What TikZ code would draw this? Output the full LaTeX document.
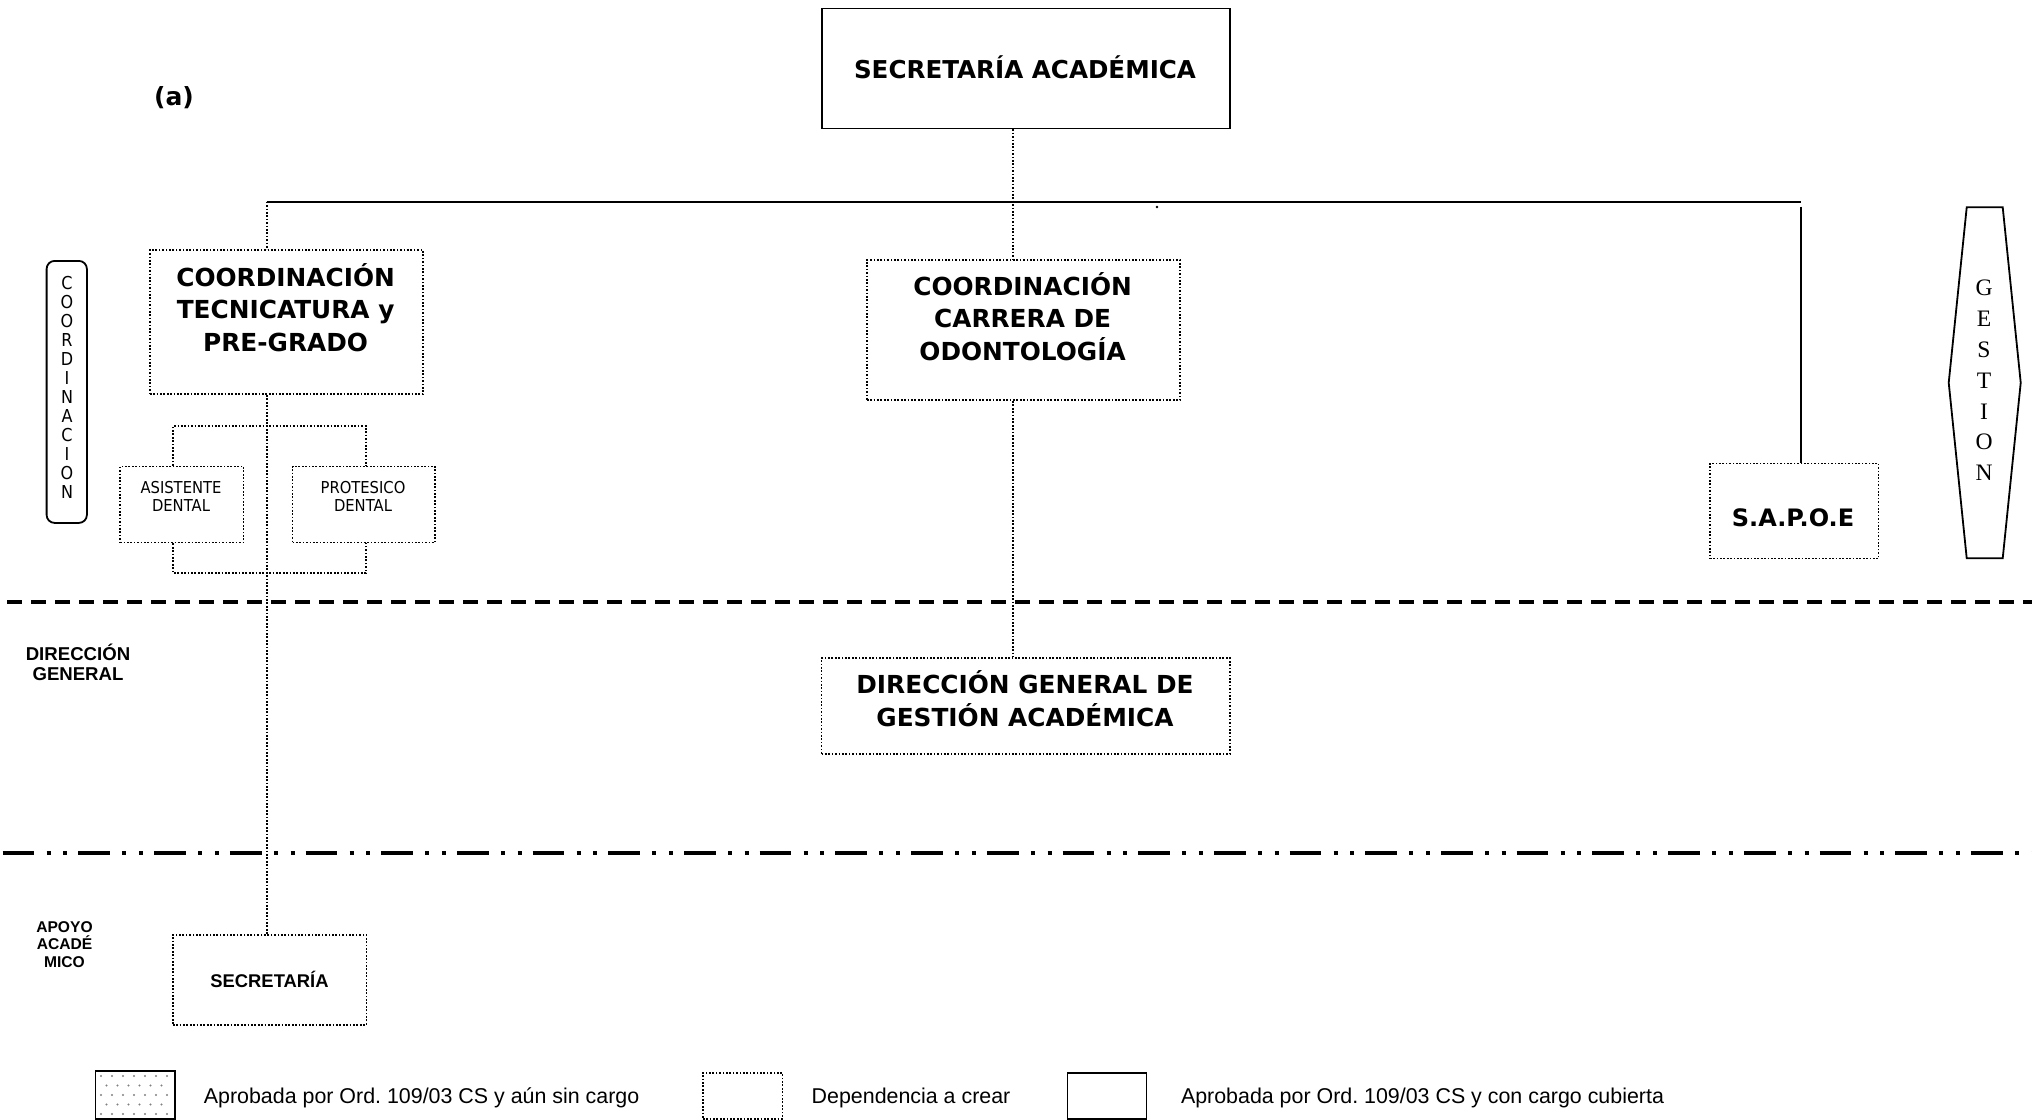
\documentclass[tikz,border=0pt]{standalone}
\usepackage{fontspec}
\setmainfont{DejaVu Sans}
\newfontfamily\dvs{DejaVu Sans}
\newfontfamily\dvc{DejaVu Sans}[FakeStretch=0.9]
\newfontfamily\lsans{Liberation Sans}
\newfontfamily\lserif{Liberation Serif}
\usetikzlibrary{calc}
\frenchspacing
\begin{document}
\begin{tikzpicture}[x=0.5pt,y=-0.5pt,
  solidbox/.style={draw, line width=0.9pt, inner sep=0pt, anchor=north west},
  dotbox/.style={draw, line width=0.85pt, dash pattern=on 0.85pt off 0.85pt, inner sep=0pt, anchor=north west},
  dotline/.style={line width=0.85pt, dash pattern=on 0.85pt off 0.85pt},
  solidline/.style={line width=0.9pt},
  bigtext/.style={font=\dvs\bfseries\fontsize{12.4pt}{16.25pt}\selectfont, align=center, inner sep=0pt, anchor=base},
  smalltext/.style={font=\dvc\fontsize{8.2pt}{9.2pt}\selectfont, align=center, inner sep=0pt, anchor=base},
  sidetext/.style={font=\lsans\bfseries, align=center, inner sep=0pt, anchor=base},
  legtext/.style={font=\lsans\fontsize{10.7pt}{12pt}\selectfont, inner sep=0pt, anchor=base west}
]
\useasboundingbox[fill=white] (0,0) rectangle (2032,1119);

% title marker
\node[font=\dvs\bfseries\fontsize{12.5pt}{14pt}\selectfont, inner sep=0pt, anchor=base] (lbl) at (174,105.5) {(a)};

% boxes (multi-line text nodes are anchored at the baseline of their last line)
\node[solidbox, minimum width=204pt, minimum height=60pt] (SA) at (821,7.5) {};
\node[bigtext, font=\dvs\bfseries\fontsize{12.3pt}{15pt}\selectfont] (SAt) at (1025,78) {SECRETARÍA ACADÉMICA};

\node[draw, line width=0.9pt, rounded corners=4pt, inner sep=0pt, anchor=north west, minimum width=20.15pt, minimum height=131pt] (CR) at (45.7,260) {};
\node[font=\dvc\fontsize{8.9pt}{9.5pt}\selectfont, align=center, inner sep=0pt] (CRt) at (67,387.4) {C\\O\\O\\R\\D\\I\\N\\A\\C\\I\\O\\N};

\node[dotbox, minimum width=136.65pt, minimum height=72pt] (CT) at (149,249.3) {};
\node[bigtext] (CTt) at (285.6,351) {COORDINACIÓN\\TECNICATURA y\\PRE-GRADO};

\node[dotbox, minimum width=156.65pt, minimum height=70pt] (CCO) at (866,259.3) {};
\node[bigtext] (CCOt) at (1022.6,360) {COORDINACIÓN\\CARRERA DE\\ODONTOLOGÍA};

\node[dotbox, minimum width=61.7pt, minimum height=38pt] (AD) at (119.3,465.7) {};
\node[smalltext] (ADt) at (181,511.7) {ASISTENTE\\DENTAL};

\node[dotbox, minimum width=71.3pt, minimum height=38pt] (PD) at (291.7,465.7) {};
\node[smalltext] (PDt) at (363,511.7) {PROTESICO\\DENTAL};

\node[dotbox, minimum width=84.35pt, minimum height=47.5pt] (SAP) at (1709,462.7) {};
\node[bigtext, font=\dvs\bfseries\fontsize{12pt}{14pt}\selectfont] (SAPt) at (1793,526) {S.A.P.O.E};

% GESTION hexagon
\coordinate (g1) at (1966.7,207.3);
\coordinate (g2) at (2002.7,207.3);
\coordinate (g3) at (2020.7,382.7);
\coordinate (g4) at (2002.7,558.3);
\coordinate (g5) at (1966.7,558.3);
\coordinate (g6) at (1948.7,382.7);
\draw[line width=0.9pt] (g1) -- (g2) -- (g3) -- (g4) -- (g5) -- (g6) -- cycle;
\node[font=\lserif\fontsize{11.8pt}{15.4pt}\selectfont, align=center, inner sep=0pt] (GEt) at (1984,380.5) {G\\E\\S\\T\\I\\O\\N};

\node[dotbox, minimum width=204.15pt, minimum height=48pt] (DG) at (820.7,657.3) {};
\node[bigtext, font=\dvs\bfseries\fontsize{12.4pt}{16.5pt}\selectfont] (DGt) at (1025,726) {DIRECCIÓN GENERAL DE\\GESTIÓN ACADÉMICA};

\node[dotbox, minimum width=96.75pt, minimum height=45pt] (SEC) at (172,934) {};
\node[sidetext, font=\lsans\bfseries\fontsize{9.2pt}{11pt}\selectfont] (SECt) at (269.5,987.5) {SECRETARÍA};

% side labels
\node[sidetext, font=\lsans\bfseries\fontsize{9.3pt}{10.35pt}\selectfont] (DIRl) at (78,680.7) {DIRECCIÓN\\GENERAL};
\node[sidetext, font=\lsans\bfseries\fontsize{7.8pt}{8.75pt}\selectfont] (APl) at (64.5,967) {APOYO\\ACADÉ\\MICO};

% level separators
\draw[line width=2pt, dash pattern=on 7.5pt off 4.5pt] (7,602) -- (2032,602);
\draw[line width=2pt, dash pattern=on 15.85pt off 6.15pt on 2pt off 6.35pt on 2pt off 5.5pt] (2.7,853.3) -- (2032,853.3);

% connectors
\coordinate (xL) at (266.7,0);
\coordinate (xM) at (1013,0);
\coordinate (xR) at (1800.7,0);
\coordinate (hy) at (0,201.7);
\coordinate (b1) at (173.3,0);
\coordinate (b2) at (365.7,0);
\coordinate (bt) at (0,425.7);
\coordinate (bb) at (0,573.3);

\draw[solidline] (hy -| xL) -- (hy -| xR);
\draw[dotline] (SA.south -| xM) -- (CCO.north -| xM);
\draw[dotline] (hy -| xL) -- (CT.north -| xL);
\draw[dotline] (CT.south -| xL) -- (SEC.north -| xL);
\draw[solidline] ($(hy -| xR)+(0,5)$) -- (SAP.north -| xR);
\draw[dotline] (CCO.south -| xM) -- (DG.north -| xM);
\draw[dotline] (AD.north -| b1) -- (bt -| b1) -- (bt -| b2) -- (PD.north -| b2);
\draw[dotline] (AD.south -| b1) -- (bb -| b1) -- (bb -| b2) -- (PD.south -| b2);
\fill (1157,207) circle (0.7pt);

% legend
\node[solidbox, minimum width=39.55pt, minimum height=24pt] (L1) at (94.6,1070) {};
\foreach \i in {0,...,4} {
  \foreach \j in {0,...,6} {
    \pgfmathsetmacro{\xx}{101+11*\j+mod(\i,2)*5.5}
    \pgfmathsetmacro{\yy}{1076+9.5*\i}
    \ifdim \xx pt<170pt \fill[gray] (\xx,\yy) circle (0.6pt);\fi
  }
}
\node[legtext] (L1t) at (203.5,1103) {Aprobada por Ord. 109/03 CS y aún sin cargo};
\node[dotbox, minimum width=39.75pt, minimum height=23pt] (L2) at (702,1072) {};
\node[legtext] (L2t) at (811.3,1103) {Dependencia a crear};
\node[solidbox, minimum width=39.5pt, minimum height=23pt] (L3) at (1066.6,1072) {};
\node[legtext] (L3t) at (1180.6,1103) {Aprobada por Ord. 109/03 CS y con cargo cubierta};
\end{tikzpicture}
\end{document}
